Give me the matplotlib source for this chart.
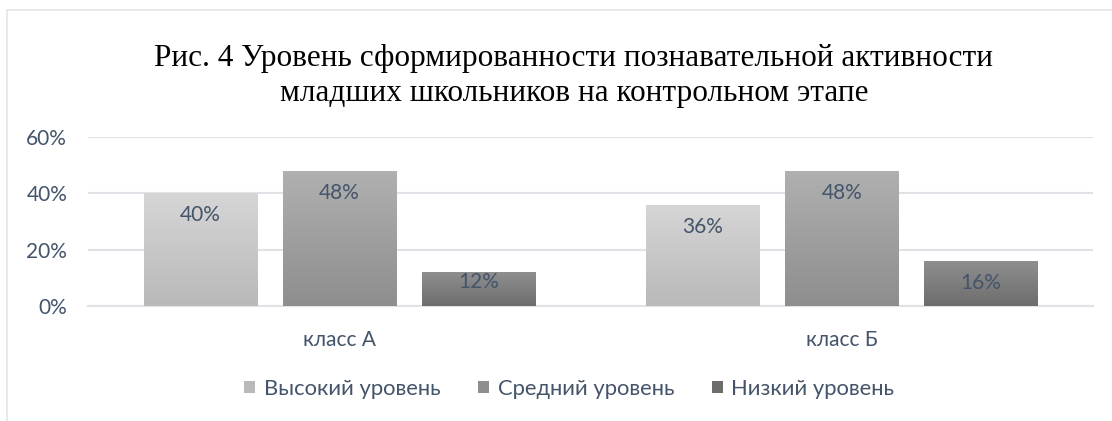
import numpy as np
import matplotlib
matplotlib.use('Agg')
from matplotlib import pyplot as plt
from matplotlib.patches import Patch
from matplotlib.colors import LinearSegmentedColormap

categories = ['класс А', 'класс Б']
series_names = ['Высокий уровень', 'Средний уровень', 'Низкий уровень']
high = [0.40, 0.36]
mid = [0.48, 0.48]
low = [0.12, 0.16]
yticks = [0, 0.2, 0.4, 0.6]
ytick_labels = ['0%', '20%', '40%', '60%']
title = ('Рис. 4 Уровень сформированности познавательной активности\n'
         'младших школьников на контрольном этапе')

# top / bottom gradient colours of each series
grad = [('#d6d6d6', '#b9b9b9'), ('#b0b0b0', '#8e8e8e'), ('#8f8f8f', '#6d6d6d')]
txt = '#44546a'
grid_c = '#dfe2e6'

plt.rcParams['font.family'] = ['Lato', 'DejaVu Sans']

fig = plt.figure(figsize=(11.12, 4.21), dpi=100)
ax = fig.add_axes([88 / 1112, 1 - 306 / 421, (1093 - 88) / 1112, (306 - 137) / 421])

# chart frame (top and left edges visible)
fig.add_artist(plt.Line2D([7 / 1112, 7 / 1112], [0, 1 - 10 / 421], color='#e3e5ea', lw=1.2))
fig.add_artist(plt.Line2D([7 / 1112, 1], [1 - 10 / 421, 1 - 10 / 421], color='#e3e5ea', lw=1.2))

x = np.arange(len(categories))
width = 0.225
step = 0.277
for i, vals in enumerate([high, mid, low]):
    bars = ax.bar(x + (i - 1) * step, vals, width, color='none', zorder=3)
    cmap = LinearSegmentedColormap.from_list('g%d' % i, [grad[i][1], grad[i][0]])
    for b, v in zip(bars, vals):
        x0, w, h = b.get_x(), b.get_width(), b.get_height()
        img = ax.imshow(np.linspace(0, 1, 100).reshape(-1, 1), cmap=cmap, origin='lower',
                        extent=[x0, x0 + w, 0, h], aspect='auto', zorder=3)
        img.set_clip_path(b)
        off = -22 if v > 0.14 else -10
        ax.annotate('%d%%' % round(v * 100), (x0 + w / 2, h), xytext=(0, off),
                    textcoords='offset pixels', ha='center', va='center',
                    color=txt, fontsize=15, zorder=4)

ax.set_xlim(-0.5, 1.5)
ax.set_ylim(0, 0.6)
ax.set_yticks(yticks)
ax.set_yticklabels(ytick_labels)
ax.set_xticks(x)
ax.set_xticklabels(categories)
ax.yaxis.grid(True, color=grid_c, lw=1.5, zorder=0)
ax.set_axisbelow(True)
for s in ['top', 'right', 'left']:
    ax.spines[s].set_visible(False)
ax.spines['bottom'].set_color(grid_c)
ax.spines['bottom'].set_linewidth(1.5)
ax.tick_params(length=0, colors=txt, labelsize=15)
ax.tick_params(axis='y', pad=15)
ax.tick_params(axis='x', pad=17)

fig.text(574 / 1112, 1 - 76 / 421, title, ha='center', va='center', fontsize=22.5,
         family=['Liberation Serif', 'DejaVu Serif'], linespacing=1.25, color='black')

handles = [Patch(facecolor=grad[i][1], label=series_names[i]) for i in range(3)]
fig.legend(handles=handles, loc='center', bbox_to_anchor=(0.512, 1 - 389 / 421), ncol=3,
           frameon=False, fontsize=15.8, labelcolor=txt, handlelength=0.5, handleheight=0.5,
           handletextpad=0.4, columnspacing=1.7)

fig.savefig('out.png', dpi=100, facecolor='white')
